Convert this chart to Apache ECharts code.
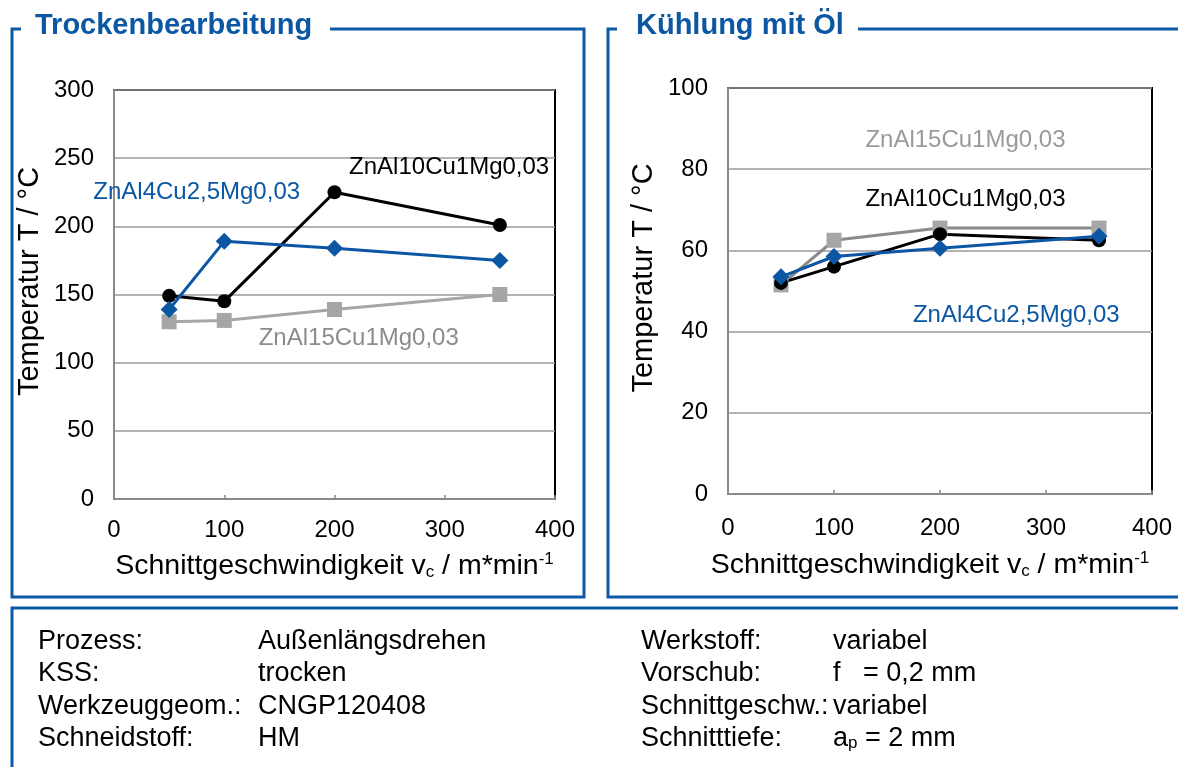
<!DOCTYPE html>
<html>
<head>
<meta charset="utf-8">
<script src="https://cdn.jsdelivr.net/npm/echarts@6/dist/echarts.min.js"></script>
<style>
  html, body { margin: 0; padding: 0; background: #fff; }
  #chart { width: 1178px; height: 767px; }
</style>
</head>
<body>
<div id="chart"></div>
<script>
// Cutting speed v_c in m/min
const vc = [50, 100, 200, 350];

// Dry machining (Trockenbearbeitung), temperature in °C
const dryZnAl15 = [130, 131, 139, 150];
const dryZnAl10 = [149, 145, 225, 201];
const dryZnAl4  = [139, 189, 184, 175];

// Oil cooling (Kühlung mit Öl), temperature in °C
const oilZnAl15 = [51.5, 62.5, 65.5, 65.5];
const oilZnAl10 = [52, 56, 64, 62.5];
const oilZnAl4  = [53.5, 58.5, 60.5, 63.5];

const alloyNames = ['ZnAl15Cu1Mg0,03', 'ZnAl10Cu1Mg0,03', 'ZnAl4Cu2,5Mg0,03'];

const xTicks = [0, 100, 200, 300, 400];
const dryTicks = [0, 50, 100, 150, 200, 250, 300];
const oilTicks = [0, 20, 40, 60, 80, 100];

// Process parameters listed under the charts
const paramsLeft = [
  ['Prozess:', 'Außenlängsdrehen'],
  ['KSS:', 'trocken'],
  ['Werkzeuggeom.:', 'CNGP120408'],
  ['Schneidstoff:', 'HM']
];
const paramsRight = [
  ['Werkstoff:', 'variabel'],
  ['Vorschub:', 'f   = 0,2 mm'],
  ['Schnittgeschw.:', 'variabel'],
  ['Schnitttiefe:', 'a{sub|p} = 2 mm']
];

const FONT = '"Liberation Sans", Arial, sans-serif';
const BLUE = '#0b57a4';
const panelBlue = '#0c58a5';

const chart = echarts.init(document.getElementById('chart'), null, { renderer: 'canvas' });

function zip(xs, ys) { return xs.map((x, i) => [x, ys[i]]); }

function xAxisFor(gridIndex, labelMargin, nameGap, namePadRight) {
  return {
    type: 'value', gridIndex, min: xTicks[0], max: xTicks[xTicks.length - 1], interval: xTicks[1] - xTicks[0],
    axisLine: { show: true, lineStyle: { color: '#8a8a8a', width: 2 } },
    axisTick: { show: true, inside: true, length: 4, lineStyle: { color: '#8a8a8a', width: 1.5 } },
    splitLine: { show: false },
    axisLabel: { color: '#000', fontSize: 24, fontFamily: FONT, margin: labelMargin },
    name: 'Schnittgeschwindigkeit v{sub|c} / m*min{sup|-1}',
    nameLocation: 'middle', nameGap,
    nameTextStyle: {
      color: '#000', fontSize: 28.5, fontFamily: FONT, lineHeight: 30,
      padding: [0, namePadRight, 0, 0],
      rich: {
        sub: { fontSize: 17, fontFamily: FONT, color: '#000', lineHeight: 14, verticalAlign: 'bottom' },
        sup: { fontSize: 17, fontFamily: FONT, color: '#000', lineHeight: 14, verticalAlign: 'top' }
      }
    }
  };
}

function yAxisFor(gridIndex, ticks) {
  return {
    type: 'value', gridIndex, min: ticks[0], max: ticks[ticks.length - 1], interval: ticks[1] - ticks[0],
    axisLine: { show: true, lineStyle: { color: '#8a8a8a', width: 2 } },
    axisTick: { show: false },
    splitLine: { show: true, lineStyle: { color: '#9a9a9a', width: 1.5 } },
    axisLabel: { color: '#000', fontSize: 24, fontFamily: FONT, margin: 20 },
    name: 'Temperatur T / °C',
    nameLocation: 'middle', nameRotate: 90, nameGap: 70,
    nameTextStyle: { color: '#000', fontSize: 29, fontFamily: FONT, padding: [0, 0, 0, 26] }
  };
}

function annotation(text, color, coord) {
  return {
    symbol: 'circle', symbolSize: 1, silent: true,
    itemStyle: { color: 'rgba(0,0,0,0)' },
    label: { show: true, position: 'inside', formatter: text, color, fontSize: 24, fontFamily: FONT },
    data: [{ coord }]
  };
}

function lineSeries(idx, data, color, lineColor, symbol, size, label, labelColor, labelCoord) {
  return {
    type: 'line', xAxisIndex: idx, yAxisIndex: idx, data,
    symbol, symbolSize: size, showSymbol: true,
    lineStyle: { color: lineColor, width: 3 },
    itemStyle: { color, borderWidth: 0 },
    emphasis: { disabled: true },
    z: 3,
    markPoint: annotation(label, labelColor, labelCoord)
  };
}

function panelTitle(text, x) {
  return {
    type: 'text', left: x, top: 11, z: 10,
    style: { text, fill: BLUE, font: 'bold 29px ' + FONT }
  };
}

function panelLine(points) {
  return {
    type: 'polyline', z: 5,
    shape: { points },
    style: { stroke: panelBlue, lineWidth: 3, fill: null }
  };
}

const rowY = [628, 660, 693, 725];
const PARAM_FONT = '27px ' + FONT;
const paramText = [];
paramsLeft.forEach((row, i) => {
  paramText.push({ type: 'text', left: 38, top: rowY[i], style: { text: row[0], fill: '#000', font: PARAM_FONT } });
  paramText.push({ type: 'text', left: 258, top: rowY[i], style: { text: row[1], fill: '#000', font: PARAM_FONT } });
});
paramsRight.forEach((row, i) => {
  paramText.push({ type: 'text', left: 641, top: rowY[i], style: { text: row[0], fill: '#000', font: PARAM_FONT } });
  paramText.push({
    type: 'text', left: 833, top: rowY[i],
    style: {
      text: row[1], fill: '#000', font: PARAM_FONT,
      rich: { sub: { fontSize: 17, fontFamily: FONT, fill: '#000', lineHeight: 14, verticalAlign: 'bottom' } }
    }
  });
});

chart.setOption({
  animation: false,
  backgroundColor: '#fff',
  textStyle: { fontFamily: FONT },
  grid: [
    { left: 114, top: 90, width: 441, height: 409, show: true, borderColor: '#000', borderWidth: 2, backgroundColor: 'transparent' },
    { left: 728, top: 88, width: 424, height: 406, show: true, borderColor: '#000', borderWidth: 2, backgroundColor: 'transparent' }
  ],
  xAxis: [xAxisFor(0, 19, 52, 0), xAxisFor(1, 22, 56, 20)],
  yAxis: [yAxisFor(0, dryTicks), yAxisFor(1, oilTicks)],
  series: [
    lineSeries(0, zip(vc, dryZnAl15), '#a6a6a6', '#a6a6a6', 'rect', 15, alloyNames[0], '#8c8c8c', [222, 118]),
    lineSeries(0, zip(vc, dryZnAl10), '#000', '#000', 'circle', 14, alloyNames[1], '#000', [304, 243]),
    lineSeries(0, zip(vc, dryZnAl4), BLUE, BLUE, 'diamond', 17, alloyNames[2], BLUE, [75, 225]),
    lineSeries(1, zip(vc, oilZnAl15), '#a6a6a6', '#8a8a8a', 'rect', 15, alloyNames[0], '#9a9a9a', [224, 87]),
    lineSeries(1, zip(vc, oilZnAl10), '#000', '#000', 'circle', 14, alloyNames[1], '#000', [224, 72.5]),
    lineSeries(1, zip(vc, oilZnAl4), BLUE, BLUE, 'diamond', 17, alloyNames[2], BLUE, [272, 44])
  ],
  graphic: [
    panelLine([[21, 29], [12, 29], [12, 597], [584, 597], [584, 29], [330, 29]]),
    panelLine([[617, 29], [608, 29], [608, 597], [1180, 597]]),
    panelLine([[858, 29], [1180, 29]]),
    panelLine([[12, 770], [12, 608], [1180, 608]]),
    panelTitle('Trockenbearbeitung', 35),
    panelTitle('Kühlung mit Öl', 636)
  ].concat(paramText)
});
</script>
</body>
</html>
